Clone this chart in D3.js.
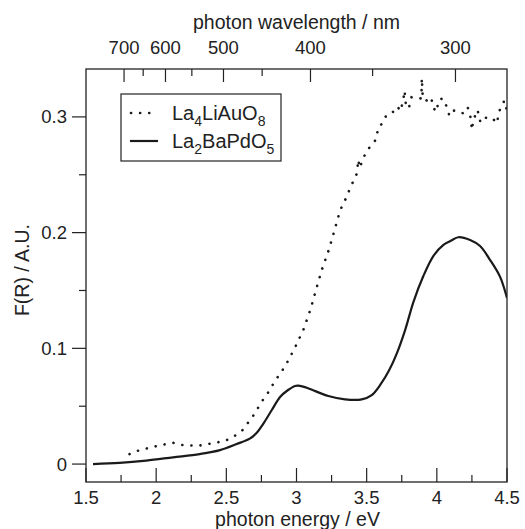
<!doctype html>
<html>
<head>
<meta charset="utf-8">
<title>F(R) spectra</title>
<script src="https://d3js.org/d3.v7.min.js"></script>
<style>
body { margin: 0; background: #fff; }
text { font-family: "Liberation Sans", Arial, sans-serif; fill: #222; }
</style>
</head>
<body>
<script>
// photon energy (eV) and F(R)
var auEnergy = [1.81,1.87,1.96,2.06,2.12,2.19,2.30,2.42,2.49,2.55,2.61,2.65,2.69,2.76,2.81,2.84,2.92,2.99,3.05,3.10,3.14,3.18,3.23,3.27,3.31,3.36,3.38,3.43,3.44,3.45,3.48,3.51,3.54,3.57,3.58,3.62,3.64,3.67,3.69,3.72,3.74,3.76,3.77,3.78,3.80,3.82,3.86,3.89,3.893,3.90,3.92,3.94,3.96,3.98,4.00,4.01,4.04,4.07,4.09,4.12,4.14,4.19,4.22,4.24,4.25,4.26,4.29,4.31,4.33,4.36,4.39,4.43,4.44,4.47,4.48,4.50];
var auValue  = [0.0086,0.0115,0.0144,0.017,0.0184,0.0164,0.0158,0.0184,0.020,0.0236,0.0285,0.035,0.0415,0.0553,0.064,0.0706,0.0847,0.1008,0.1164,0.1337,0.151,0.1677,0.185,0.2017,0.219,0.2316,0.238,0.251,0.263,0.256,0.2656,0.272,0.2766,0.281,0.290,0.2958,0.3016,0.303,0.3045,0.309,0.305,0.3139,0.3226,0.31,0.3073,0.317,0.316,0.316,0.3334,0.316,0.315,0.313,0.316,0.307,0.3045,0.314,0.316,0.309,0.3008,0.3054,0.3054,0.303,0.3083,0.2997,0.2887,0.2973,0.306,0.2958,0.2997,0.299,0.2995,0.2945,0.304,0.311,0.314,0.3054];

var pdEnergy = [1.55,1.74,1.93,2.12,2.31,2.455,2.574,2.67,2.717,2.764,2.824,2.883,2.94,2.99,3.013,3.06,3.11,3.227,3.346,3.465,3.536,3.60,3.66,3.715,3.774,3.833,3.904,3.976,4.047,4.10,4.154,4.237,4.308,4.38,4.45,4.5];
var pdValue  = [0.0,0.001,0.003,0.0058,0.0086,0.012,0.0173,0.0222,0.027,0.035,0.0467,0.058,0.064,0.0675,0.0677,0.0665,0.0642,0.0588,0.0559,0.0559,0.0596,0.069,0.081,0.0957,0.1158,0.140,0.1625,0.180,0.1895,0.193,0.196,0.1936,0.1884,0.1763,0.162,0.1435];

var xMajor = [1.5,2,2.5,3,3.5,4,4.5];
var xMinor = [1.75,2.25,2.75,3.25,3.75,4.25];
var yMajor = [0,0.1,0.2,0.3];
var yMinor = [0.05,0.15,0.25];
var nmMajor = [700,600,500,400,300];
var nmMinor = [650,550,450,350];

var width = 525, height = 529;
var L = 86, R = 507, T = 69, B = 482;

var svg = d3.select("body").append("svg")
    .attr("width", width)
    .attr("height", height);

var x = d3.scaleLinear().domain([1.5, 4.5]).range([L, R]);
var y = d3.scaleLinear().domain([-0.0155, 0.3414]).range([B, T]);
var nm = function(l){ return x(1239.84 / l); };

svg.append("clipPath").attr("id","clip")
  .append("rect").attr("x",L).attr("y",T).attr("width",R-L).attr("height",B-T);

var line = d3.line()
    .x(function(d){ return x(d[0]); })
    .y(function(d){ return y(d[1]); })
    .curve(d3.curveCatmullRom.alpha(0.5));

var au = d3.zip(auEnergy, auValue);
var pd = d3.zip(pdEnergy, pdValue);

svg.append("path").datum(pd)
    .attr("clip-path","url(#clip)")
    .attr("d", line)
    .attr("fill","none").attr("stroke","#1a1a1a").attr("stroke-width",2.2);

svg.append("path").datum(au)
    .attr("clip-path","url(#clip)")
    .attr("d", d3.line().x(function(d){return x(d[0]);}).y(function(d){return y(d[1]);}))
    .attr("fill","none").attr("stroke","#1a1a1a").attr("stroke-width",2.6)
    .attr("stroke-linecap","round").attr("stroke-dasharray","0.1,9");

// frame
svg.append("rect").attr("x",L).attr("y",T).attr("width",R-L).attr("height",B-T)
    .attr("fill","none").attr("stroke","#222").attr("stroke-width",1.3);

var g = svg.append("g").attr("stroke","#222").attr("stroke-width",1.2);

// bottom ticks (inside)
g.selectAll(".xM").data(xMajor).enter().append("line")
    .attr("x1",x).attr("x2",x).attr("y1",B).attr("y2",B-14);
g.selectAll(".xm").data(xMinor).enter().append("line")
    .attr("x1",x).attr("x2",x).attr("y1",B).attr("y2",B-7);
// left ticks (outside)
g.selectAll(".yM").data(yMajor).enter().append("line")
    .attr("y1",y).attr("y2",y).attr("x1",L).attr("x2",L-14);
g.selectAll(".ym").data(yMinor).enter().append("line")
    .attr("y1",y).attr("y2",y).attr("x1",L).attr("x2",L-7);
// top ticks (inside), wavelength
g.selectAll(".nM").data(nmMajor).enter().append("line")
    .attr("x1",nm).attr("x2",nm).attr("y1",T).attr("y2",T+13);
g.selectAll(".nm").data(nmMinor).enter().append("line")
    .attr("x1",nm).attr("x2",nm).attr("y1",T).attr("y2",T+7);

svg.selectAll(".xl").data(xMajor).enter().append("text")
    .attr("x",x).attr("y",504).attr("text-anchor","middle")
    .style("font-size","18.5px").text(function(d){return d;});
svg.selectAll(".yl").data(yMajor).enter().append("text")
    .attr("x",67).attr("y",function(d){return y(d)+6.5;}).attr("text-anchor","end")
    .style("font-size","18.5px").text(function(d){return d;});
svg.selectAll(".nl").data(nmMajor).enter().append("text")
    .attr("x",nm).attr("y",54).attr("text-anchor","middle")
    .style("font-size","18.5px").text(function(d){return d;});

svg.append("text").attr("x",(L+R)/2 + 1).attr("y",526).attr("text-anchor","middle")
    .style("font-size","19.5px").text("photon energy / eV");
svg.append("text").attr("x",(L+R)/2).attr("y",29).attr("text-anchor","middle")
    .style("font-size","19.5px").text("photon wavelength / nm");
svg.append("text").attr("transform","translate(29,270) rotate(-90)").attr("text-anchor","middle")
    .style("font-size","19.5px").text("F(R) / A.U.");

// legend
var leg = svg.append("g");
leg.append("rect").attr("x",121).attr("y",94).attr("width",160).attr("height",67)
    .attr("fill","#fff").attr("stroke","#222").attr("stroke-width",1.2);
leg.append("line").attr("x1",131).attr("x2",157).attr("y1",113).attr("y2",113)
    .attr("stroke","#1a1a1a").attr("stroke-width",2.6).attr("stroke-linecap","round").attr("stroke-dasharray","0.1,9");
leg.append("line").attr("x1",130).attr("x2",158).attr("y1",141).attr("y2",141)
    .attr("stroke","#1a1a1a").attr("stroke-width",2.2);

function formula(yy, parts){
  var tx = leg.append("text").attr("x",172).attr("y",yy).style("font-size","20px");
  var off = 0;
  parts.forEach(function(p){
    var want = p[1] ? 6 : 0;
    tx.append("tspan").text(p[0])
      .attr("dy", want - off)
      .style("font-size", p[1] ? "14px" : "20px");
    off = want;
  });
}
formula(120, [["La",0],["4",1],["LiAuO",0],["8",1]]);
formula(148, [["La",0],["2",1],["BaPdO",0],["5",1]]);
</script>
</body>
</html>
